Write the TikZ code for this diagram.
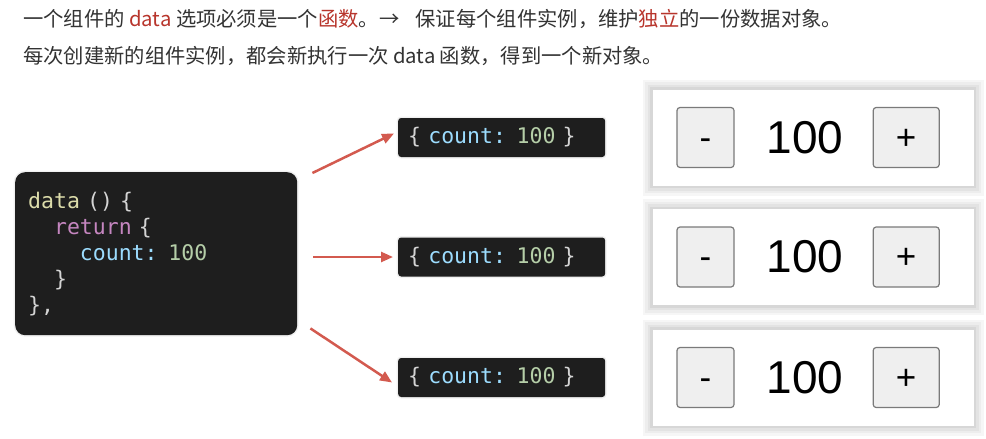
\documentclass[tikz,border=0pt]{standalone}
\usepackage{fontspec}
\setmonofont{DejaVu Sans Mono}
\newfontfamily\cjk{Noto Sans CJK SC}
\newfontfamily\uifont{Liberation Sans}
\usepackage{tikz}
\usetikzlibrary{positioning, arrows.meta}

\definecolor{codebg}{HTML}{1E1E1E}
\definecolor{codefg}{HTML}{D4D4D4}
\definecolor{codefn}{HTML}{DCDCAA}
\definecolor{codekw}{HTML}{C586C0}
\definecolor{codevar}{HTML}{9CDCFE}
\definecolor{codenum}{HTML}{B5CEA8}
\definecolor{arrowred}{HTML}{D35A4F}
\definecolor{hlred}{HTML}{B8352C}
\definecolor{headgrey}{HTML}{333333}
\definecolor{btnfill}{HTML}{EFEFEF}
\definecolor{btnline}{HTML}{7A7A7A}

\newcommand{\objtext}{\textcolor{codefg}{\{} \textcolor{codevar}{count:} \textcolor{codenum}{100} \textcolor{codefg}{\}}}

\begin{document}
\begin{tikzpicture}[
    x=1pt, y=-1pt,
    headline/.style={anchor=west, inner sep=0, text=headgrey, font=\cjk\fontsize{20.3}{24}\selectfont},
    softedge/.style={preaction={draw=black, draw opacity=0.06, line width=3pt}},
    glow/.style={preaction={draw=black, draw opacity=0.035, line width=20pt},
        preaction={draw=black, draw opacity=0.035, line width=15pt},
        preaction={draw=black, draw opacity=0.04, line width=10pt},
        preaction={draw=black, draw opacity=0.05, line width=5pt}},
    codebox/.style={softedge, fill=codebg, rounded corners=10pt, text=codefg, align=left,
        font=\ttfamily\fontsize{21.5}{26}\selectfont},
    objbox/.style={softedge, fill=codebg, rounded corners=3pt, minimum height=39pt, text width=187pt,
        inner xsep=10pt, align=left, font=\ttfamily\fontsize{21.5}{24}\selectfont},
    panel/.style={glow, fill=white, minimum width=321pt, minimum height=96pt},
    btn/.style={draw=btnline, fill=btnfill, line width=1.2pt, rounded corners=3pt,
        minimum height=60pt, text height=23pt, text depth=0pt, font=\uifont\fontsize{35}{40}\selectfont},
    countval/.style={inner sep=0, font=\uifont\fontsize{46}{50}\selectfont},
    arrow/.style={-{Triangle[length=12pt, width=10pt]}, draw=arrowred, line width=2.5pt}
]
\useasboundingbox[fill=white] (0,0) rectangle (986,439);

% heading
\node[headline] (head1) at (23,19) {一个组件的 \textcolor{hlred}{data} 选项必须是一个\textcolor{hlred}{函数}。→\hspace{0.8em}保证每个组件实例，维护\textcolor{hlred}{独立}的一份数据对象。};
\node[headline] (head2) at (23,56) {每次创建新的组件实例，都会新执行一次 data 函数，得到一个新对象。};

% data function
\node[codebox, anchor=north west, minimum width=282pt, minimum height=163pt, text width=256pt, inner xsep=13pt] (code) at (15,172) {%
\textcolor{codefn}{data} () \{\\
\phantom{xx}\textcolor{codekw}{return} \{\\
\phantom{xxxx}\textcolor{codevar}{count:} \textcolor{codenum}{100}\\
\phantom{xx}\}\\
\},};

% returned objects
\node[objbox, anchor=west] (obj1) at (398,137.5) {\objtext};
\node[objbox, anchor=west] (obj2) at (398,257) {\objtext};
\node[objbox, anchor=west] (obj3) at (398,377.5) {\objtext};

\draw[arrow] ([xshift=15pt, yshift=-1pt]code.north east) -- ([xshift=-4pt, yshift=4pt]obj1.west);
\draw[arrow] ([xshift=16pt]code.east |- obj2.west) -- ([xshift=-5pt]obj2.west);
\draw[arrow] ([xshift=13pt, yshift=7pt]code.south east) -- ([xshift=-6pt, yshift=-5pt]obj3.west);

% counter components
\node[panel, right=47pt of obj1] (panel1) {};
\node[btn, minimum width=57pt, right=24pt of panel1.west] (minus1) {-};
\node[countval, right=32pt of minus1] (val1) {100};
\node[btn, minimum width=66pt, left=34pt of panel1.east] (plus1) {+};

\node[panel, right=47pt of obj2] (panel2) {};
\node[btn, minimum width=57pt, right=24pt of panel2.west] (minus2) {-};
\node[countval, right=32pt of minus2] (val2) {100};
\node[btn, minimum width=66pt, left=34pt of panel2.east] (plus2) {+};

\node[panel, right=47pt of obj3] (panel3) {};
\node[btn, minimum width=57pt, right=24pt of panel3.west] (minus3) {-};
\node[countval, right=32pt of minus3] (val3) {100};
\node[btn, minimum width=66pt, left=34pt of panel3.east] (plus3) {+};

\end{tikzpicture}
\end{document}
